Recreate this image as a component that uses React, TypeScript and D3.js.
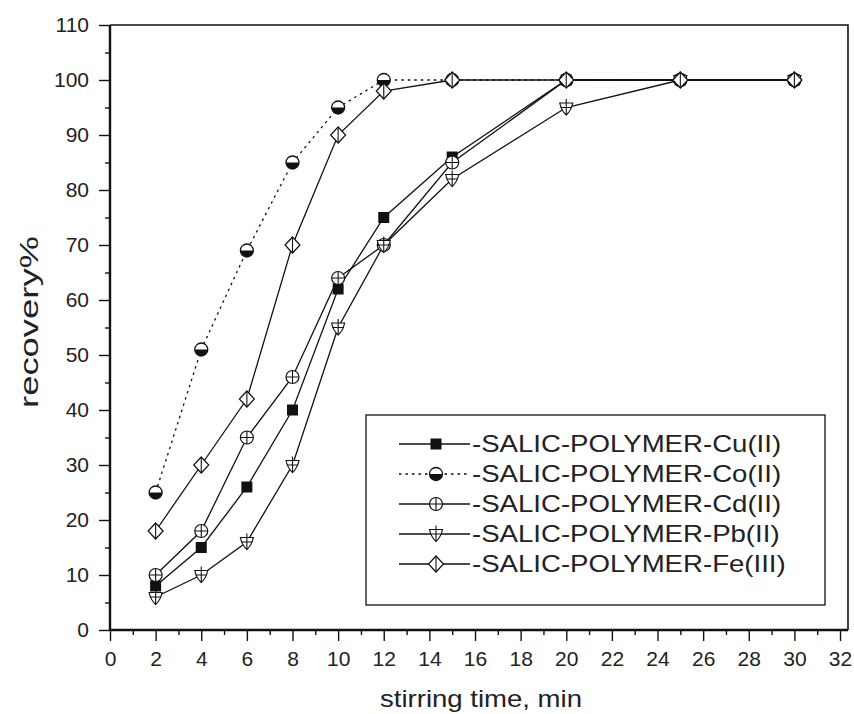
import * as d3 from "d3";
import React, { useEffect, useRef } from "react";

const times = [2, 4, 6, 8, 10, 12, 15, 20, 25, 30];
const cuValues = [8, 15, 26, 40, 62, 75, 86, 100, 100, 100];
const coValues = [25, 51, 69, 85, 95, 100, 100, 100, 100, 100];
const cdValues = [10, 18, 35, 46, 64, 70, 85, 100, 100, 100];
const pbValues = [6, 10, 16, 30, 55, 70, 82, 95, 100, 100];
const feValues = [18, 30, 42, 70, 90, 98, 100, 100, 100, 100];
const seriesNames = [
  "-SALIC-POLYMER-Cu(II)",
  "-SALIC-POLYMER-Co(II)",
  "-SALIC-POLYMER-Cd(II)",
  "-SALIC-POLYMER-Pb(II)",
  "-SALIC-POLYMER-Fe(III)",
];
const xTicks = d3.range(0, 33, 2);
const yTicks = d3.range(0, 111, 10);

const FONT = "'Liberation Sans', Arial, sans-serif";

type Sel = d3.Selection<SVGGElement, unknown, null, undefined>;

// marker painters, centred on 0,0
const drawSquare = (g: Sel) => {
  g.append("rect").attr("x", -5.5).attr("y", -5.5).attr("width", 11).attr("height", 11)
    .attr("fill", "#111");
};
const drawHalfCircle = (g: Sel) => {
  const r = 6.5;
  g.append("circle").attr("r", r).attr("fill", "#fff").attr("stroke", "#111").attr("stroke-width", 1.3);
  g.append("path").attr("d", `M${-r},0 A${r},${r} 0 0 0 ${r},0 Z`).attr("fill", "#111");
};
const drawCirclePlus = (g: Sel) => {
  const r = 6.5;
  g.append("circle").attr("r", r).attr("fill", "#fff").attr("stroke", "#111").attr("stroke-width", 1.2);
  g.append("path").attr("d", `M${-r},0 H${r} M0,${-r} V${r}`).attr("stroke", "#111").attr("stroke-width", 1.1);
};
const drawShield = (g: Sel) => {
  g.append("path").attr("d", "M-6.5,-4.5 H6.5 Q5,3 0,7.5 Q-5,3 -6.5,-4.5 Z").attr("fill", "#fff").attr("stroke", "#111").attr("stroke-width", 1.2);
  g.append("path").attr("d", "M0,-8.5 V7 M-5.5,0 H5.5").attr("stroke", "#111").attr("stroke-width", 1.1);
};
const drawDiamond = (g: Sel) => {
  g.append("path").attr("d", "M0,-8 L7.5,0 L0,8 L-7.5,0 Z").attr("fill", "#fff").attr("stroke", "#111").attr("stroke-width", 1.2);
  g.append("path").attr("d", "M0,-8 V8").attr("stroke", "#111").attr("stroke-width", 1.1);
};

const series = [
  { name: seriesNames[0], values: cuValues, marker: drawSquare, dash: null },
  { name: seriesNames[1], values: coValues, marker: drawHalfCircle, dash: "2.5,4" },
  { name: seriesNames[2], values: cdValues, marker: drawCirclePlus, dash: null },
  { name: seriesNames[3], values: pbValues, marker: drawShield, dash: null },
  { name: seriesNames[4], values: feValues, marker: drawDiamond, dash: null },
];

const App = () => {
  const svgRef = useRef<SVGSVGElement>(null);

  const width = 854;
  const height = 714;
  const left = 110;
  const right = 848;
  const top = 25;
  const bottom = 630;

  useEffect(() => {
    const svg = d3.select(svgRef.current);
    svg.selectAll("*").remove();

    const x = d3.scaleLinear().domain([0, 32.35]).range([left, right]);
    const y = d3.scaleLinear().domain([0, 110]).range([bottom, top]);

    // frame (top + right)
    svg.append("path")
      .attr("d", `M${left},${top} H${right} V${bottom}`)
      .attr("fill", "none").attr("stroke", "#111").attr("stroke-width", 1.6);

    // minor ticks
    svg.append("g").attr("transform", `translate(0,${bottom})`)
      .call(d3.axisBottom(x).tickValues(d3.range(1, 33, 2)).tickSize(5).tickFormat(() => ""))
      .call((g) => g.select(".domain").remove());
    svg.append("g").attr("transform", `translate(${left},0)`)
      .call(d3.axisLeft(y).tickValues(d3.range(5, 110, 10)).tickSize(5).tickFormat(() => ""))
      .call((g) => g.select(".domain").remove());

    const xAxis = svg.append("g").attr("transform", `translate(0,${bottom})`)
      .call(d3.axisBottom(x).tickValues(xTicks).tickSize(11).tickSizeOuter(0).tickPadding(10));
    const yAxis = svg.append("g").attr("transform", `translate(${left},0)`)
      .call(d3.axisLeft(y).tickValues(yTicks).tickSize(11).tickSizeOuter(0).tickPadding(10));

    [xAxis, yAxis].forEach((ax) => {
      ax.select(".domain").attr("stroke-width", 2.4).attr("stroke", "#111");
      ax.selectAll("text").attr("font-family", FONT).attr("font-size", 21).attr("fill", "#222");
    });
    svg.selectAll(".tick line").attr("stroke", "#111").attr("stroke-width", 1.4);
    // axis lines run the full frame
    xAxis.select(".domain").attr("d", `M${left},0 H${right}`);
    yAxis.select(".domain").attr("d", `M0,${top} V${bottom}`);

    // series
    const line = d3.line<number>().x((d, i) => x(times[i])).y((d) => y(d));
    series.forEach((s) => {
      svg.append("path")
        .datum(s.values)
        .attr("d", line)
        .attr("fill", "none")
        .attr("stroke", "#111")
        .attr("stroke-width", 1.3)
        .attr("stroke-dasharray", s.dash);
    });
    series.forEach((s) => {
      s.values.forEach((v, i) => {
        const g = svg.append("g").attr("transform", `translate(${x(times[i])},${y(v)})`);
        s.marker(g as unknown as Sel);
      });
    });

    // legend
    const lg = svg.append("g");
    lg.append("rect")
      .attr("x", 366).attr("y", 415).attr("width", 459).attr("height", 190)
      .attr("fill", "#fff").attr("stroke", "#111").attr("stroke-width", 1.3);
    series.forEach((s, i) => {
      const cy = 444 + i * 30;
      lg.append("line")
        .attr("x1", 399).attr("x2", 470).attr("y1", cy).attr("y2", cy)
        .attr("stroke", "#111").attr("stroke-width", 1.3)
        .attr("stroke-dasharray", s.dash);
      const mg = lg.append("g").attr("transform", `translate(436,${cy})`);
      s.marker(mg as unknown as Sel);
      lg.append("text")
        .attr("transform", `translate(472,${cy}) scale(1.2,1)`)
        .attr("dy", "0.36em")
        .attr("font-family", FONT)
        .attr("font-size", 23)
        .attr("fill", "#222")
        .text(s.name);
    });

    // axis titles
    svg.append("text")
      .attr("x", 380).attr("y", 707)
      .attr("font-family", FONT).attr("font-size", 24).attr("fill", "#222")
      .attr("textLength", 202).attr("lengthAdjust", "spacingAndGlyphs")
      .text("stirring time, min");
    svg.append("text")
      .attr("transform", `translate(38,${322}) rotate(-90)`)
      .attr("text-anchor", "middle")
      .attr("font-family", FONT).attr("font-size", 25).attr("fill", "#222")
      .attr("textLength", 172).attr("lengthAdjust", "spacingAndGlyphs")
      .text("recovery%");
  }, []);

  return (
    <svg
      ref={svgRef}
      width={width}
      height={height}
      style={{ position: "absolute", left: 0, top: 0, background: "#fff" }}
    />
  );
};

export default App;
